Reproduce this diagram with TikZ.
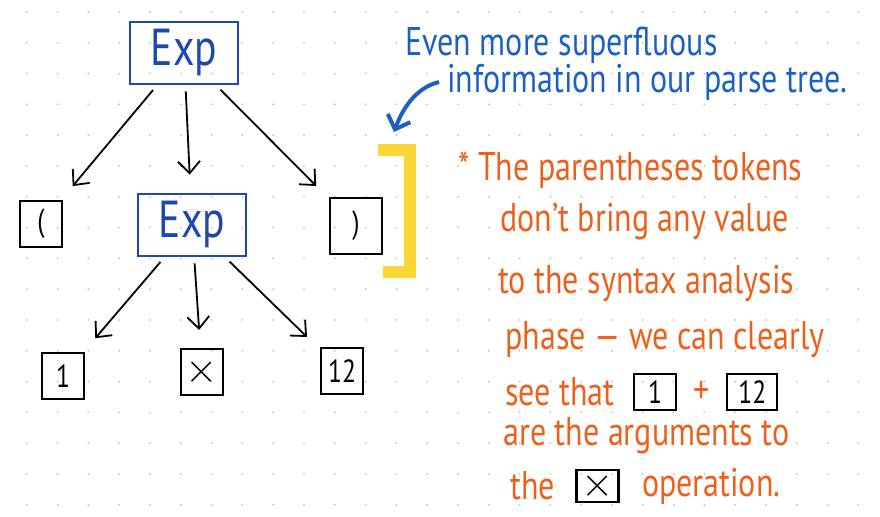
\documentclass[tikz,border=0pt]{standalone}
\usepackage{fontspec}
\setmainfont{PT Sans}
\newfontfamily\handfont[FakeStretch=0.8]{PT Sans}
\usepackage{tikz}
\usetikzlibrary{arrows.meta,positioning}
\usepackage{xcolor}
\definecolor{inkblue}{RGB}{30,72,170}
\definecolor{penblue}{RGB}{28,96,196}
\definecolor{inkorange}{RGB}{236,96,28}
\definecolor{marker}{RGB}{250,214,55}
\newcommand{\bigtimes}{{\fontsize{22}{22}\selectfont$\times$}}
\tikzset{
    expbox/.style={draw=inkblue, line width=1.4pt, text=inkblue,
        font=\handfont\fontsize{26}{26}\selectfont,
        minimum width=54pt, minimum height=31pt, inner sep=2pt},
    tokbox/.style={draw=black, line width=1.1pt,
        font=\handfont\fontsize{16}{16}\selectfont,
        minimum width=21pt, minimum height=23pt, inner sep=2pt},
    inbox/.style={tokbox, minimum height=18pt, inner sep=1pt},
    edge/.style={-{Straight Barb[length=6pt,width=11pt]}, line width=0.9pt,
        shorten >=9pt, shorten <=3pt},
    note/.style={text=inkorange, font=\handfont\fontsize{20}{20}\selectfont,
        anchor=west, inner sep=0pt},
    remark/.style={text=penblue, font=\handfont\fontsize{20}{20}\selectfont,
        anchor=west, inner sep=0pt}
}

\begin{document}
\begin{tikzpicture}[x=0.5pt, y=-0.5pt]
        \useasboundingbox (0,0) rectangle (880,517);
        % Dotted paper
        \foreach \i in {1,...,28}
            \foreach \j in {0,...,16}
                \fill[gray!45] ({-4+\i*30.8},{12+\j*30.8}) circle (0.55pt);
        % Parse tree
        \node[expbox] (top) at (184,53) {Exp};
        \node[tokbox] (lpar) at (41,224) {(};
        \node[expbox] (mid) at (192,225) {Exp};
        \node[tokbox, minimum width=26pt, minimum height=28pt] (rpar) at (356,226) {)};
        \node[tokbox] (one) at (63,376) {1};
        \node[tokbox] (times) at (202,372) {\bigtimes};
        \node[tokbox] (twelve) at (342,371) {12};
        \draw[edge] (top) -- (lpar);
        \draw[edge] (top) -- (mid);
        \draw[edge] (top) -- (rpar);
        \draw[edge] (mid) -- (one);
        \draw[edge] (mid) -- (times);
        \draw[edge] (mid) -- (twelve);
        % Highlighter bracket
        \draw[marker, line width=6pt] (378,150) -- (410,150) -- (410,272) -- (383,272);
        % Blue remark with arrow
        \node[remark] (rem1) at (405,45) {Even more superfluous};
        \node[remark] (rem2) at (447,82) {information in our parse tree.};
        \coordinate (bracket) at (394,132);
        \draw[penblue, line width=2pt, -{Straight Barb[length=6pt,width=12pt]}]
            ([xshift=-4pt]rem2.west) .. controls (415,88) and (402,110) .. (bracket);
        % Orange note
        \node[note] (n1) at (458,170) {* The parentheses tokens};
        \node[note] (n2) at (500,222) {don’t bring any value};
        \node[note] (n3) at (498,283) {to the syntax analysis};
        \node[note] (n4) at (505,340) {phase — we can clearly};
        \node[note] (n5) at (505,392) {see that};
        \node[inbox, right=9pt of n5] (ref1) {1};
        \node[note, right=8pt of ref1] (plus) {+};
        \node[inbox, minimum width=25pt, right=8pt of plus] (ref12) {12};
        \node[note] (n6) at (503,436) {are the arguments to};
        \node[note] (n7) at (510,486) {the};
        \node[inbox, minimum height=16pt, right=10pt of n7] (ref2) {\bigtimes};
        \node[note, right=11pt of ref2] (n8) {operation.};
\end{tikzpicture}
\end{document}
